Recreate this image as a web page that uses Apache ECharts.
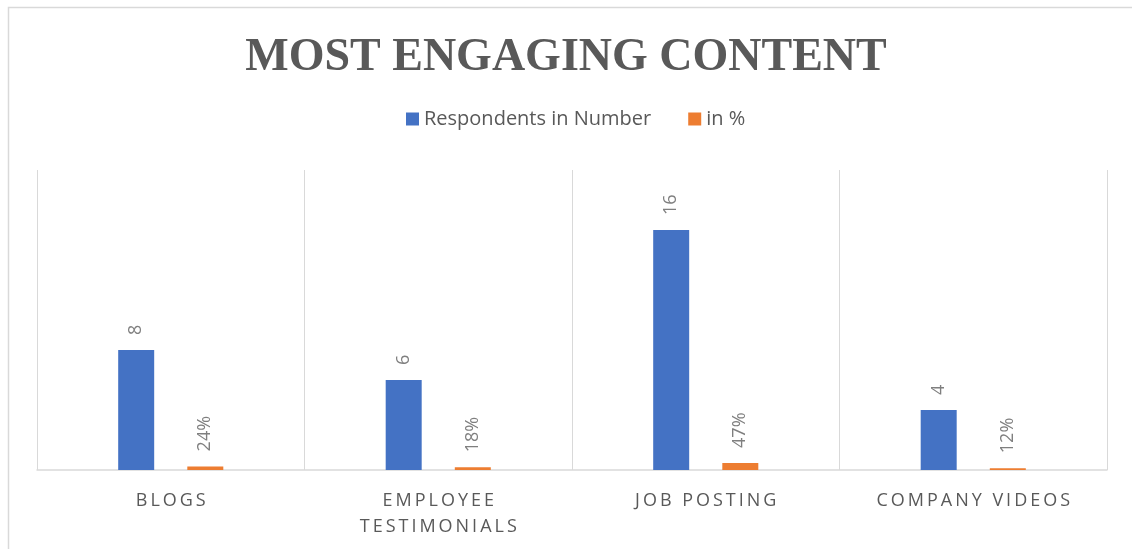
<!DOCTYPE html>
<html>
<head>
<meta charset="utf-8">
<title>Most Engaging Content</title>
<script src="https://cdn.jsdelivr.net/npm/echarts@6/dist/echarts.min.js"></script>
<style>
  html, body { margin: 0; padding: 0; background: #ffffff; }
  #chart { width: 1132px; height: 549px; }
</style>
</head>
<body>
<div id="chart"></div>
<script>
// Content types asked about in the survey
const categories = ['BLOGS', 'EMPLOYEE TESTIMONIALS', 'JOB POSTING', 'COMPANY VIDEOS'];
// Number of respondents picking each content type
const respondents = [8, 6, 16, 4];
// Share of respondents (fraction of total)
const shares = [0.24, 0.18, 0.47, 0.12];
const seriesNames = ['Respondents in Number', 'in %'];

const TEXT_DARK = '#595959';
const TEXT_LIGHT = '#7f7f7f';
const GRID_LINE = '#d9d9d9';
const THIN = '\u2009';

// Spread capital letters apart and wrap long names onto two lines
function spaced(name) {
  const words = name.split(' ');
  const lines = name.length > 16 ? words : [name];
  return lines.map(l => l.split('').join(THIN)).join('\n');
}

const chart = echarts.init(document.getElementById('chart'), null, { renderer: 'canvas' });

const valueLabel = (fmt) => ({
  show: true,
  position: 'top',
  rotate: 90,
  align: 'left',
  verticalAlign: 'middle',
  distance: 15,
  color: TEXT_LIGHT,
  fontFamily: 'Open Sans',
  fontSize: 18,
  formatter: fmt
});

chart.setOption({
  animation: false,
  backgroundColor: '#ffffff',
  graphic: [{
    type: 'rect',
    shape: { x: 8.5, y: 7.5, width: 1140, height: 560 },
    style: { fill: 'none', stroke: GRID_LINE, lineWidth: 1.5 },
    silent: true,
    z: -1
  }],
  title: {
    text: 'MOST ENGAGING CONTENT',
    left: 'center',
    top: 30,
    textStyle: {
      fontFamily: 'Liberation Serif',
      fontWeight: 'bold',
      fontSize: 46,
      color: TEXT_DARK
    }
  },
  legend: {
    data: seriesNames,
    left: 401,
    top: 104,
    icon: 'rect',
    itemWidth: 13,
    itemHeight: 13,
    itemGap: 37,
    textStyle: {
      fontFamily: 'Open Sans',
      fontSize: 20,
      color: TEXT_DARK
    }
  },
  grid: {
    left: 37,
    right: 25,
    top: 170,
    bottom: 79,
    containLabel: false
  },
  xAxis: {
    type: 'category',
    data: categories,
    axisLine: { show: true, lineStyle: { color: GRID_LINE, width: 1.5 } },
    axisTick: { show: false },
    splitLine: { show: true, lineStyle: { color: GRID_LINE, width: 1 } },
    axisLabel: {
      margin: 18,
      color: TEXT_DARK,
      fontFamily: 'Open Sans',
      fontSize: 18,
      lineHeight: 26,
      interval: 0,
      formatter: spaced
    }
  },
  yAxis: {
    type: 'value',
    min: 0,
    max: 20,
    interval: 4,
    show: false,
    splitLine: { show: false }
  },
  series: [
    {
      name: seriesNames[0],
      type: 'bar',
      data: respondents,
      barWidth: 36,
      barGap: '92%',
      itemStyle: { color: '#4472C4' },
      label: valueLabel(p => String(p.value))
    },
    {
      name: seriesNames[1],
      type: 'bar',
      data: shares,
      barWidth: 36,
      itemStyle: { color: '#ED7D31' },
      label: valueLabel(p => Math.round(p.value * 100) + '%')
    }
  ]
});
</script>
</body>
</html>
